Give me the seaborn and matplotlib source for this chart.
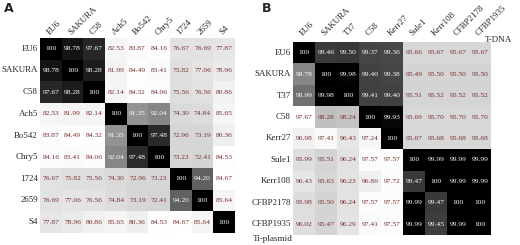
import numpy as np
import pandas as pd
import matplotlib
matplotlib.use("Agg")
import matplotlib.pyplot as plt
from matplotlib.colors import LinearSegmentedColormap
import seaborn as sns

# ---------------- data ----------------
a_labels = ["EU6", "SAKURA", "C58", "Ach5", "Bo542", "Chry5", "1724", "2659", "S4"]
a_values = [
    [100, 98.78, 97.67, 82.53, 83.87, 84.16, 76.67, 76.69, 77.87],
    [98.78, 100, 98.28, 81.99, 84.49, 83.41, 75.82, 77.06, 78.96],
    [97.67, 98.28, 100, 82.14, 84.32, 84.06, 75.56, 76.56, 80.86],
    [82.53, 81.99, 82.14, 100, 91.35, 92.04, 74.30, 74.84, 85.65],
    [83.87, 84.49, 84.32, 91.35, 100, 97.48, 72.96, 73.19, 80.36],
    [84.16, 83.41, 84.06, 92.04, 97.48, 100, 73.23, 72.41, 84.53],
    [76.67, 75.82, 75.56, 74.30, 72.96, 73.23, 100, 94.20, 84.67],
    [76.69, 77.06, 76.56, 74.84, 73.19, 72.41, 94.20, 100, 85.64],
    [77.87, 78.96, 80.86, 85.65, 80.36, 84.53, 84.67, 85.64, 100],
]

b_labels = ["EU6", "SAKURA", "T37", "C58", "Kerr27", "Sule1", "Kerr108", "CFBP2178", "CFBP1935"]
b_values = [
    [100, 99.46, 99.50, 99.37, 99.36, 95.66, 95.67, 95.67, 95.67],
    [98.78, 100, 99.98, 99.40, 99.38, 95.49, 95.50, 95.50, 95.50],
    [98.99, 99.98, 100, 99.41, 99.40, 95.51, 95.52, 95.52, 95.52],
    [97.67, 98.28, 98.24, 100, 99.93, 95.69, 95.70, 95.70, 95.70],
    [96.98, 97.41, 96.43, 97.24, 100, 95.67, 95.68, 95.68, 95.68],
    [95.99, 95.51, 96.24, 97.57, 97.57, 100, 99.99, 99.99, 99.99],
    [96.43, 95.63, 96.23, 96.86, 97.72, 99.47, 100, 99.99, 99.99],
    [95.98, 95.50, 96.24, 97.57, 97.57, 99.99, 99.47, 100, 100],
    [96.02, 95.47, 96.29, 97.41, 97.57, 99.99, 99.45, 99.99, 100],
]

upper_note = "T-DNA"
lower_note = "Ti-plasmid"

# ---------------- style ----------------
sns.set_theme(style="white")
plt.rcParams["font.family"] = ["Liberation Serif", "DejaVu Serif"]

fig = plt.figure(figsize=(5.2, 2.45), dpi=100)

def make_cmap(white_pos):
    return LinearSegmentedColormap.from_list(
        "gw", [(0.0, (0.83, 0.83, 0.83)), (white_pos, (1, 1, 1)), (1.0, (0, 0, 0))]
    )

text_dark = "#7a2e2e"

def draw(ax, labels, values, white_val, xpad):
    df = pd.DataFrame(values, index=labels, columns=labels)
    vmin = df.values.min()
    wp = (white_val - vmin) / (100 - vmin)
    cmap = make_cmap(wp)
    annot = df.map(lambda v: "100" if v >= 100 else f"{v:.2f}")
    sns.heatmap(df, ax=ax, cmap=cmap, vmin=vmin, vmax=100, cbar=False,
                annot=annot, fmt="", annot_kws={"fontsize": 5.4},
                square=False, linewidths=0)
    flat = df.values.flatten()
    for t, v in zip(ax.texts, flat):
        rgba = cmap((v - vmin) / (100 - vmin))
        t.set_color("white" if rgba[0] < 0.62 else text_dark)
    ax.xaxis.tick_top()
    ax.set_xticklabels(labels, rotation=45, ha="left", va="bottom",
                       rotation_mode="anchor", fontsize=6.4)
    ax.set_yticklabels(labels, rotation=0, fontsize=6.4)
    ax.tick_params(axis="y", length=0, pad=1.5)
    ax.tick_params(axis="x", length=0, pad=xpad)
    ax.set_xlabel("")
    ax.set_ylabel("")

axA = fig.add_axes([40/520, 1-233/245, 195/520, 195/245])
draw(axA, a_labels, a_values, 85.0, 1)

axB = fig.add_axes([293/520, 1-235/245, 198/520, 193/245])
draw(axB, b_labels, b_values, 97.7, 3)

fig.text(4/520, 1-9/245, "A", fontsize=9, fontweight="bold",
         family="DejaVu Sans", va="center", ha="left")
fig.text(262/520, 1-9/245, "B", fontsize=9, fontweight="bold",
         family="DejaVu Sans", va="center", ha="left")
fig.text(485/520, 1-40/245, upper_note, fontsize=6.6, va="center", ha="left")
fig.text(253/520, 1-239/245, lower_note, fontsize=6.6, va="center", ha="left")

fig.savefig("out.png", dpi=100)
